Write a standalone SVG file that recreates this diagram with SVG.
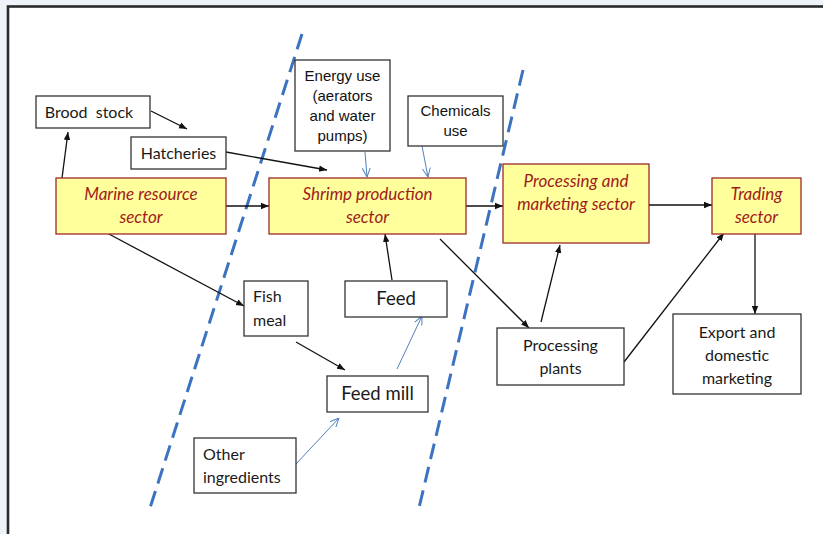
<svg xmlns="http://www.w3.org/2000/svg" width="823" height="534" viewBox="0 0 823 534">
<style>
.box{fill:#ffffff;stroke:#333333;stroke-width:1.3}
.sec{fill:#ffff9c;stroke:#9b2a2a;stroke-width:1.3}
.t{font-family:Lato,"Open Sans","Liberation Sans",sans-serif;font-size:16px;fill:#1a1a1a;text-anchor:middle}
.tl{text-anchor:start}
.big{font-size:18.5px}
.a{font-family:"Liberation Sans",Arial,sans-serif;font-size:15px;fill:#111;text-anchor:middle}
.st{font-family:Lato,"Open Sans","Liberation Sans",sans-serif;font-style:italic;font-size:17px;fill:#9e1b1b;text-anchor:middle}
.k{stroke:#111;stroke-width:1.3;fill:none;marker-end:url(#ak)}
.b{stroke:#4f81bd;stroke-width:1;fill:none;marker-end:url(#ab)}
.d{stroke:#3b73c0;stroke-width:3;stroke-dasharray:16 8;fill:none}
</style>
<defs>
<marker id="ak" viewBox="0 0 10 10" refX="10" refY="5" markerWidth="8" markerHeight="8" markerUnits="userSpaceOnUse" orient="auto">
<path d="M0,1 L10,5 L0,9 Z" fill="#111"/>
</marker>
<marker id="ab" viewBox="0 0 10 10" refX="10" refY="5" markerWidth="9" markerHeight="9" markerUnits="userSpaceOnUse" orient="auto">
<path d="M0,0.5 L10,5 L0,9.5" fill="none" stroke="#4f81bd" stroke-width="1.1"/>
</marker>
</defs>
<rect x="0" y="0" width="823" height="534" fill="#eef3f9"/>
<rect x="8" y="6.5" width="830" height="540" fill="#ffffff" stroke="#2a2a2a" stroke-width="2.6"/>

<g id="dividers">
<line class="d" x1="302" y1="34" x2="150" y2="508"/>
<line class="d" x1="523" y1="70" x2="418" y2="512"/>
</g>

<g id="connectors">
<line class="k" x1="62" y1="178" x2="68" y2="132"/>
<line class="k" x1="151" y1="111" x2="187" y2="129"/>
<line class="k" x1="226" y1="152" x2="327" y2="170"/>
<line class="k" x1="226" y1="206" x2="269" y2="206"/>
<line class="b" x1="365" y1="152" x2="367" y2="177"/>
<line class="b" x1="422" y1="146" x2="428" y2="177"/>
<line class="k" x1="466" y1="206" x2="503" y2="206"/>
<line class="k" x1="649" y1="205" x2="712" y2="205"/>
<line class="k" x1="755" y1="234" x2="755" y2="314"/>
<line class="k" x1="107" y1="233" x2="244" y2="306"/>
<line class="k" x1="296" y1="342" x2="345" y2="370"/>
<line class="b" x1="397" y1="369" x2="422" y2="316"/>
<line class="k" x1="392" y1="280" x2="385" y2="234"/>
<line class="b" x1="296" y1="464" x2="339" y2="418"/>
<line class="k" x1="440" y1="239" x2="529" y2="328"/>
<line class="k" x1="541" y1="322" x2="560" y2="245"/>
<line class="k" x1="624" y1="362" x2="724" y2="233"/>
</g>

<g id="brood-stock">
<rect class="box" x="36" y="96" width="114" height="32"/>
<text class="t" x="89" y="118" style="white-space:pre" xml:space="preserve">Brood  stock</text>
</g>
<g id="hatcheries">
<rect class="box" x="131" y="137" width="95" height="32"/>
<text class="t" x="178.5" y="159">Hatcheries</text>
</g>
<g id="marine-resource-sector">
<rect class="sec" x="56" y="178" width="170" height="56"/>
<text class="st" x="141" y="200">Marine resource</text>
<text class="st" x="141" y="223">sector</text>
</g>
<g id="energy-use">
<rect class="box" x="295" y="60" width="95" height="91"/>
<text class="a" x="342.5" y="81">Energy use</text>
<text class="a" x="342.5" y="101">(aerators</text>
<text class="a" x="342.5" y="121">and water</text>
<text class="a" x="342.5" y="141">pumps)</text>
</g>
<g id="chemicals-use">
<rect class="box" x="408" y="96" width="95" height="50"/>
<text class="a" x="455.5" y="116">Chemicals</text>
<text class="a" x="455.5" y="136">use</text>
</g>
<g id="shrimp-production-sector">
<rect class="sec" x="269" y="178" width="197" height="56"/>
<text class="st" x="367.5" y="200">Shrimp production</text>
<text class="st" x="367.5" y="223">sector</text>
</g>
<g id="processing-marketing-sector">
<rect class="sec" x="503" y="164" width="146" height="79"/>
<text class="st" x="576" y="187">Processing and</text>
<text class="st" x="576" y="210">marketing sector</text>
</g>
<g id="trading-sector">
<rect class="sec" x="712" y="178" width="89" height="56"/>
<text class="st" x="756.5" y="200">Trading</text>
<text class="st" x="756.5" y="223">sector</text>
</g>
<g id="fish-meal">
<rect class="box" x="244" y="281" width="64" height="55"/>
<text class="t tl" x="253" y="302">Fish</text>
<text class="t tl" x="253" y="326">meal</text>
</g>
<g id="feed">
<rect class="box" x="345" y="281" width="102" height="36"/>
<text class="t big" x="396" y="305">Feed</text>
</g>
<g id="feed-mill">
<rect class="box" x="327" y="376" width="101" height="36"/>
<text class="t big" x="377.5" y="400">Feed mill</text>
</g>
<g id="other-ingredients">
<rect class="box" x="194" y="438" width="102" height="55"/>
<text class="t tl" x="203" y="460">Other</text>
<text class="t tl" x="203" y="483">ingredients</text>
</g>
<g id="processing-plants">
<rect class="box" x="497" y="328" width="127" height="57"/>
<text class="t" x="560.5" y="351">Processing</text>
<text class="t" x="560.5" y="374">plants</text>
</g>
<g id="export-domestic-marketing">
<rect class="box" x="673" y="314" width="128" height="80"/>
<text class="t" x="737" y="338">Export and</text>
<text class="t" x="737" y="361">domestic</text>
<text class="t" x="737" y="384">marketing</text>
</g>
</svg>
